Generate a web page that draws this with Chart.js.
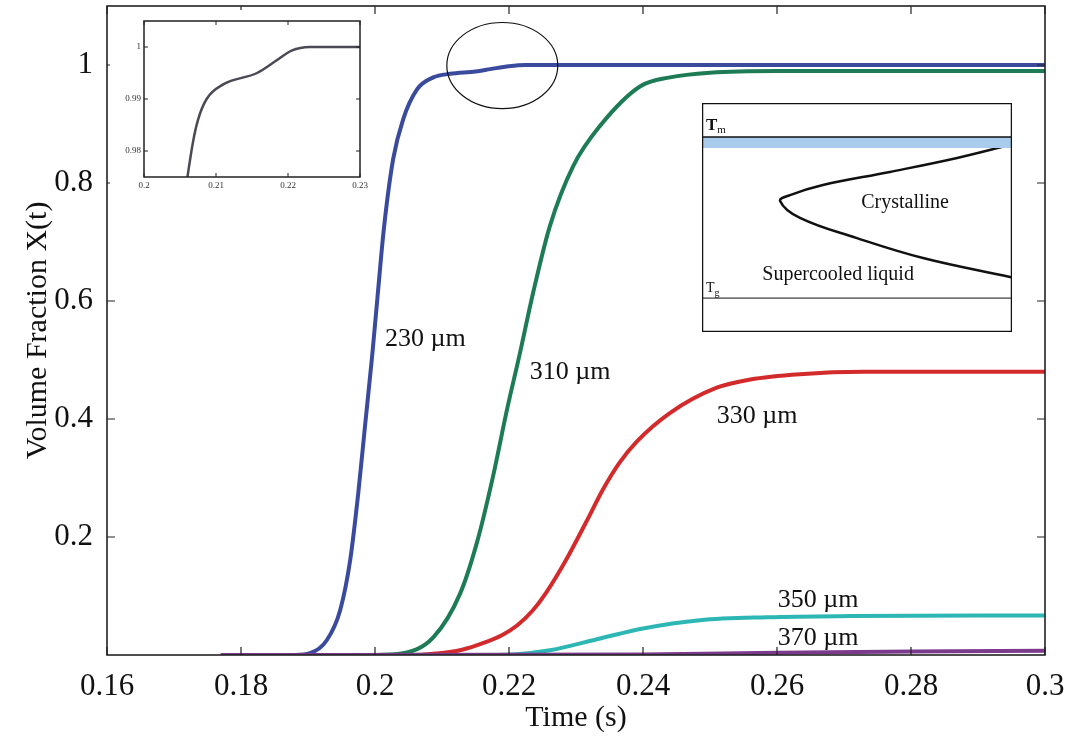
<!DOCTYPE html>
<html><head><meta charset="utf-8">
<script src="https://cdn.jsdelivr.net/npm/chart.js@4.4.1/dist/chart.umd.min.js"></script>
<style>
html,body{margin:0;padding:0;background:#fff;}
#wrap{position:relative;width:1072px;height:738px;overflow:hidden;}
#main{position:absolute;left:0;top:0;}
#inset1{position:absolute;left:110px;top:10px;background:#fff;}
#inset2{position:absolute;left:702px;top:103px;background:#fff;}
</style></head><body>
<div id="wrap">
<canvas id="main" width="1072" height="738"></canvas>
<canvas id="inset1" width="260" height="190"></canvas>
<canvas id="inset2" width="310" height="229"></canvas>
</div>
<script>
// ---------- Main chart data (time in s, volume fraction X(t)) ----------
const t230 = [0.177,0.188,0.1903,0.1928,0.1948,0.1963,0.1975,0.1985,0.1996,0.2004,0.2013,0.2027,0.2042,0.2063,0.2087,0.2112,0.2150,0.2172,0.2200,0.2225,0.26,0.3];
const x230 = [0,0,0.003,0.025,0.076,0.161,0.274,0.387,0.51,0.61,0.72,0.84,0.908,0.959,0.979,0.985,0.989,0.993,0.998,1.0,1.0,1.0];
const t310 = [0.177,0.200,0.2037,0.2087,0.2127,0.2152,0.2176,0.2197,0.2216,0.2236,0.2261,0.2296,0.2336,0.2396,0.2440,0.2500,0.2600,0.3];
const x310 = [0,0,0.002,0.03,0.104,0.19,0.302,0.416,0.51,0.614,0.727,0.829,0.897,0.964,0.979,0.987,0.990,0.990];
const t330 = [0.177,0.205,0.2087,0.2130,0.2161,0.2190,0.2212,0.2235,0.2255,0.2287,0.2315,0.2340,0.2365,0.2391,0.2440,0.2510,0.2560,0.2634,0.2730,0.3];
const x330 = [0,0,0.002,0.009,0.02,0.034,0.05,0.075,0.105,0.165,0.225,0.28,0.326,0.362,0.41,0.453,0.467,0.476,0.48,0.48];
const t350 = [0.177,0.215,0.2206,0.2261,0.2336,0.2400,0.2485,0.2585,0.2710,0.3];
const x350 = [0,0,0.001,0.008,0.028,0.045,0.059,0.064,0.066,0.067];
const t370 = [0.177,0.2400,0.2600,0.2800,0.3];
const x370 = [0,0.001,0.004,0.006,0.007];

const seriesNames = ['370 \u00b5m','230 \u00b5m','310 \u00b5m','330 \u00b5m','350 \u00b5m'];
const xTicks = [0.16,0.18,0.2,0.22,0.24,0.26,0.28,0.3];
const yTicks = [0.2,0.4,0.6,0.8,1];

// curve label anchors (data coordinates)
const labelText = ['230 \u00b5m','310 \u00b5m','330 \u00b5m','350 \u00b5m','370 \u00b5m'];
const labelT = [0.2015,0.2231,0.2510,0.2601,0.2601];
const labelX = [0.535,0.48,0.404,0.093,0.029];
// highlighted region (ellipse): center and radii in data units
const ellipseC = [0.2190,0.999];
const ellipseR = [0.00828,0.073];

// ---------- Zoom inset data ----------
const tZoom = [0.2055,0.2068,0.2075,0.2087,0.2110,0.2157,0.2185,0.2205,0.2230,0.2300];
const xZoom = [0.970,0.9817,0.986,0.990,0.9928,0.995,0.9975,0.9993,1.0,1.0];
const zoomXTicks = [0.2,0.21,0.22,0.23];
const zoomYTicks = [0.98,0.99,1];

// ---------- Schematic (TTT diagram) inset, arbitrary units 0-100 ----------
const cCurveTime = [100,99.4,82.3,60.6,39.0,28.4,25.2,31.6,50.0,71.3,99.4,100];
const cCurveTemp = [81.9,81.7,76.0,69.9,64.2,59.8,57.2,49.8,41.0,32.3,24.0,23.8];
const tmBand = [80.3,85.2];
const tgLevel = 14.8;

const SERIF = "'Liberation Serif','Times New Roman',serif";
const pts = (xs, ys) => xs.map((v,i)=>({x:v,y:ys[i]}));

const framePlugin = {
  id: 'frame',
  afterDatasetsDraw(chart, args, o) {
    const {ctx, chartArea: a, scales} = chart;
    ctx.save();
    ctx.strokeStyle = o.color; ctx.lineWidth = o.width;
    ctx.strokeRect(a.left, a.top, a.right - a.left, a.bottom - a.top);
    if (o.tick > 0) {
      ctx.lineWidth = o.tickWidth;
      ctx.beginPath();
      scales.x.ticks.forEach(t => {
        const p = scales.x.getPixelForValue(t.value);
        ctx.moveTo(p, a.bottom); ctx.lineTo(p, a.bottom - o.tick);
        ctx.moveTo(p, a.top); ctx.lineTo(p, a.top + o.tick);
      });
      scales.y.ticks.forEach(t => {
        const p = scales.y.getPixelForValue(t.value);
        ctx.moveTo(a.left, p); ctx.lineTo(a.left + o.tick, p);
        ctx.moveTo(a.right, p); ctx.lineTo(a.right - o.tick, p);
      });
      ctx.stroke();
    }
    ctx.restore();
  }
};

const notesPlugin = {
  id: 'notes',
  afterDatasetsDraw(chart) {
    const {ctx, scales:{x, y}} = chart;
    ctx.save();
    ctx.fillStyle = '#111';
    ctx.font = "26px " + SERIF;
    ctx.textAlign = 'left'; ctx.textBaseline = 'middle';
    labelText.forEach((s,i)=> ctx.fillText(s, x.getPixelForValue(labelT[i]), y.getPixelForValue(labelX[i])));
    const cx = x.getPixelForValue(ellipseC[0]), cy = y.getPixelForValue(ellipseC[1]);
    const rx = x.getPixelForValue(ellipseC[0]+ellipseR[0]) - cx;
    const ry = cy - y.getPixelForValue(ellipseC[1]+ellipseR[1]);
    ctx.strokeStyle = '#111'; ctx.lineWidth = 1.2;
    ctx.beginPath(); ctx.ellipse(cx, cy, rx, ry, 0, 0, Math.PI*2); ctx.stroke();
    ctx.restore();
  }
};

const noPad = s => { s.paddingTop = 0; s.paddingBottom = 0; s.paddingLeft = 0; s.paddingRight = 0; };
const fmt = v => String(+(+v).toFixed(3));
const lineDs = (label, xs, ys, color) => ({label, data: pts(xs, ys), borderColor: color, backgroundColor: color,
  borderWidth: 4, pointRadius: 0, cubicInterpolationMode: 'monotone', fill: false});

new Chart(document.getElementById('main'), {
  type: 'line',
  data: { datasets: [
    lineDs(seriesNames[0], t370, x370, '#7b3a8c'),
    lineDs(seriesNames[1], t230, x230, '#3a4b9e'),
    lineDs(seriesNames[2], t310, x310, '#1d7b55'),
    lineDs(seriesNames[3], t330, x330, '#d32a2c'),
    lineDs(seriesNames[4], t350, x350, '#2db7b4'),
  ]},
  options: {
    responsive: false, animation: false, devicePixelRatio: 1,
    layout: { padding: { top: 6, right: 27, left: 0, bottom: 0 } },
    plugins: { legend: {display:false}, tooltip: {enabled:false},
      frame: { color: '#222', width: 1.6, tick: 8, tickWidth: 1.2 } },
    scales: {
      x: { type: 'linear', min: 0.16, max: 0.3,
        afterBuildTicks: s => { s.ticks = xTicks.map(v=>({value:v})); },
        afterFit: s => { s.height = 83; noPad(s); },
        grid: {display:false, drawTicks:false}, border: {display:false},
        ticks: { font: {family: SERIF, size: 31}, color: '#111', padding: 13, maxRotation: 0, autoSkip: false, callback: fmt },
        title: { display: true, text: 'Time (s)', font: {family: SERIF, size: 30}, color: '#111', padding: {top:0, bottom:2} } },
      y: { type: 'linear', min: 0, max: 1.1,
        afterBuildTicks: s => { s.ticks = yTicks.map(v=>({value:v})); },
        afterFit: s => { s.width = 107; noPad(s); },
        grid: {display:false, drawTicks:false}, border: {display:false},
        ticks: { font: {family: SERIF, size: 31}, color: '#111', padding: 14, autoSkip: false, callback: fmt },
        title: { display: true, text: 'Volume Fraction X(t)', font: {family: SERIF, size: 30}, color: '#111', padding: {top:20, bottom:0} } }
    }
  },
  plugins: [framePlugin, notesPlugin]
});

// ---------- zoom inset ----------
new Chart(document.getElementById('inset1'), {
  type: 'line',
  data: { datasets: [ { label: '230 \u00b5m (zoom)', data: pts(tZoom, xZoom), borderColor: '#4a4a55', borderWidth: 2.5,
    pointRadius: 0, cubicInterpolationMode: 'monotone', fill: false } ] },
  options: {
    responsive: false, animation: false, devicePixelRatio: 1,
    layout: { padding: { top: 11, right: 10, left: 0, bottom: 0 } },
    plugins: { legend: {display:false}, tooltip: {enabled:false},
      frame: { color: '#222', width: 1.5, tick: 4, tickWidth: 1 } },
    scales: {
      x: { type: 'linear', min: 0.2, max: 0.23,
        afterBuildTicks: s => { s.ticks = zoomXTicks.map(v=>({value:v})); },
        afterFit: s => { s.height = 23; noPad(s); },
        grid: {display:false, drawTicks:false}, border: {display:false},
        ticks: { font: {family: SERIF, size: 9}, color: '#333', padding: 3, maxRotation: 0, autoSkip: false, callback: fmt } },
      y: { type: 'linear', min: 0.975, max: 1.005,
        afterBuildTicks: s => { s.ticks = zoomYTicks.map(v=>({value:v})); },
        afterFit: s => { s.width = 34; noPad(s); },
        grid: {display:false, drawTicks:false}, border: {display:false},
        ticks: { font: {family: SERIF, size: 9}, color: '#333', padding: 3, autoSkip: false, callback: fmt } }
    }
  },
  plugins: [framePlugin]
});

// ---------- schematic inset ----------
const schemTextPlugin = {
  id: 'schemText',
  afterDatasetsDraw(chart) {
    const {ctx, scales:{x, y}} = chart;
    ctx.save(); ctx.fillStyle = '#111'; ctx.textBaseline = 'alphabetic';
    ctx.textAlign = 'left';
    ctx.font = "bold 17px " + SERIF;
    let px = x.getPixelForValue(1.3), py = y.getPixelForValue(88.2);
    ctx.fillText('T', px, py);
    let w = ctx.measureText('T').width;
    ctx.font = "11px " + SERIF; ctx.fillText('m', px + w, py + 3);
    ctx.font = "14px " + SERIF;
    px = x.getPixelForValue(1.3); py = y.getPixelForValue(17.5);
    ctx.fillText('T', px, py);
    w = ctx.measureText('T').width;
    ctx.font = "10px " + SERIF; ctx.fillText('g', px + w, py + 4);
    ctx.font = "20px " + SERIF; ctx.textAlign = 'center'; ctx.textBaseline = 'middle';
    ctx.fillText('Crystalline', x.getPixelForValue(65.5), y.getPixelForValue(56.3));
    ctx.fillText('Supercooled liquid', x.getPixelForValue(43.9), y.getPixelForValue(24.9));
    ctx.restore();
  }
};
new Chart(document.getElementById('inset2'), {
  type: 'line',
  data: { datasets: [
    { label: 'band low', data: [{x:0,y:tmBand[0]},{x:100,y:tmBand[0]}], borderWidth: 0, borderColor: 'rgba(0,0,0,0)', pointRadius: 0, fill: false },
    { label: 'Tm', data: [{x:0,y:tmBand[1]},{x:100,y:tmBand[1]}], borderWidth: 1.5, borderColor: '#111', backgroundColor: '#a9cbec', pointRadius: 0, fill: '-1' },
    { label: 'Tg', data: [{x:0,y:tgLevel},{x:100,y:tgLevel}], borderWidth: 1, borderColor: '#111', pointRadius: 0, fill: false },
    { label: 'C-curve', data: pts(cCurveTime, cCurveTemp), borderWidth: 2.5, borderColor: '#111', pointRadius: 0, tension: 0.4, fill: false }
  ]},
  options: {
    responsive: false, animation: false, devicePixelRatio: 1,
    layout: { padding: 0 },
    plugins: { legend: {display:false}, tooltip: {enabled:false},
      frame: { color: '#111', width: 2.5, tick: 0, tickWidth: 0 } },
    scales: {
      x: { type: 'linear', min: 0, max: 100, display: false },
      y: { type: 'linear', min: 0, max: 100, display: false }
    }
  },
  plugins: [framePlugin, schemTextPlugin]
});
</script>
</body></html>
